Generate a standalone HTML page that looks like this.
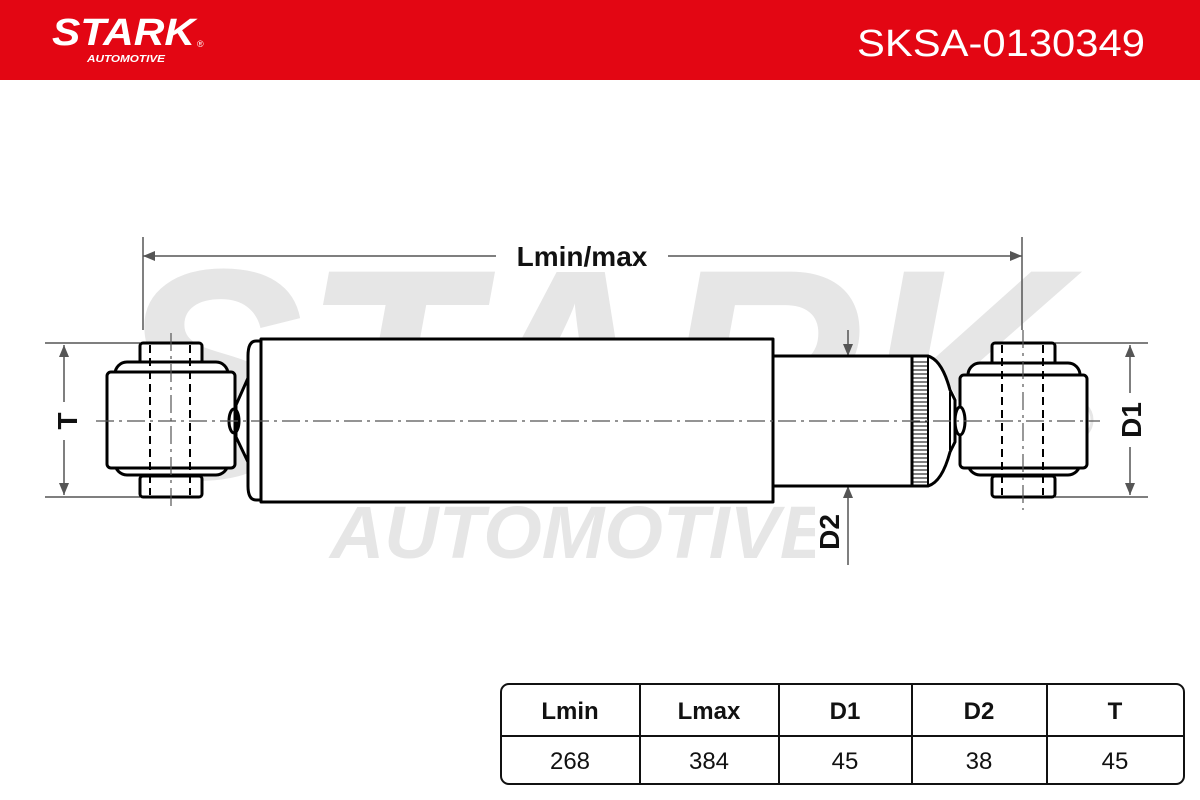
<!DOCTYPE html>
<html><head><meta charset="utf-8"><style>
html,body{margin:0;padding:0;background:#fff;width:1200px;height:800px;overflow:hidden}
svg{display:block}
text{font-family:"Liberation Sans",sans-serif}
</style></head><body>
<svg width="1200" height="800" viewBox="0 0 1200 800" xmlns="http://www.w3.org/2000/svg">
<rect x="0" y="0" width="1200" height="80" fill="#e30613"/>
<text x="52" y="45" font-size="38" font-weight="bold" font-style="italic" fill="#fff" textLength="143" lengthAdjust="spacingAndGlyphs">STARK</text>
<text x="197" y="47" font-size="9" fill="#fff">®</text>
<text x="87" y="62" font-size="10" font-weight="bold" font-style="italic" fill="#fff" textLength="78" lengthAdjust="spacingAndGlyphs">AUTOMOTIVE</text>
<text x="1145" y="56" font-size="38" fill="#fff" text-anchor="end" textLength="288" lengthAdjust="spacingAndGlyphs">SKSA-0130349</text>

<!-- watermark -->
<text x="590" y="478" font-size="300" font-weight="bold" font-style="italic" fill="#e6e6e6" text-anchor="middle" textLength="950" lengthAdjust="spacingAndGlyphs">STARK</text>
<text x="580" y="558" font-size="74" font-weight="bold" font-style="italic" fill="#e6e6e6" text-anchor="middle" textLength="500" lengthAdjust="spacingAndGlyphs">AUTOMOTIVE</text>
<circle cx="1072" cy="420" r="20" fill="none" stroke="#e6e6e6" stroke-width="3"/>
<text x="1072" y="430" font-size="26" fill="#e6e6e6" text-anchor="middle">R</text>

<g stroke="#555" stroke-width="1.5" fill="none">
<line x1="143" y1="237" x2="143" y2="330"/>
<line x1="1022" y1="237" x2="1022" y2="330"/>
<line x1="143" y1="256" x2="1022" y2="256"/>
<line x1="45" y1="343" x2="140" y2="343"/>
<line x1="45" y1="497" x2="140" y2="497"/>
<line x1="64" y1="345" x2="64" y2="495"/>
<line x1="1055" y1="343" x2="1148" y2="343"/>
<line x1="1055" y1="497" x2="1148" y2="497"/>
<line x1="1130" y1="345" x2="1130" y2="495"/>
<line x1="848" y1="330" x2="848" y2="565"/>
</g>
<g fill="#555">
<polygon points="143,256 155,251 155,261"/>
<polygon points="1022,256 1010,251 1010,261"/>
<polygon points="64,345 59,357 69,357"/>
<polygon points="64,495 59,483 69,483"/>
<polygon points="1130,345 1125,357 1135,357"/>
<polygon points="1130,495 1125,483 1135,483"/>
<polygon points="848,356 843,344 853,344"/>
<polygon points="848,486 843,498 853,498"/>
</g>
<rect x="496" y="240" width="172" height="32" fill="#fff"/>
<text x="582" y="266" font-size="28" font-weight="bold" text-anchor="middle" fill="#111">Lmin/max</text>
<rect x="50" y="402" width="28" height="38" fill="#fff"/>
<text transform="translate(77,421) rotate(-90)" font-size="28" font-weight="bold" text-anchor="middle" fill="#111">T</text>
<rect x="1115" y="393" width="30" height="54" fill="#fff"/>
<text transform="translate(1141,420) rotate(-90)" font-size="28" font-weight="bold" text-anchor="middle" fill="#111">D1</text>
<rect x="815" y="505" width="28" height="54" fill="#fff"/>
<text transform="translate(839,532) rotate(-90)" font-size="28" font-weight="bold" text-anchor="middle" fill="#111">D2</text>

<g stroke="#000" stroke-width="3" fill="none" stroke-linejoin="round">
<rect x="140" y="343" width="62" height="22" rx="3" fill="#fff"/>
<rect x="140" y="476" width="62" height="21" rx="3" fill="#fff"/>
<rect x="115" y="362" width="113" height="113" rx="12" fill="#fff"/>
<rect x="107" y="372" width="128" height="96" rx="4" fill="#fff"/>
<rect x="992" y="343" width="63" height="22" rx="3" fill="#fff"/>
<rect x="992" y="476" width="63" height="21" rx="3" fill="#fff"/>
<rect x="968" y="363" width="112" height="112" rx="12" fill="#fff"/>
<rect x="960" y="375" width="127" height="93" rx="4" fill="#fff"/>
<path d="M248,378 L236,405 L236,437 L248,462" fill="#fff"/>
<ellipse cx="234" cy="421" rx="5" ry="12"/>
<path d="M261,341 L256,341 Q248,341 248,356 L248,486 Q248,500 256,500 L261,500" fill="#fff"/>
<rect x="261" y="339" width="512" height="163" fill="#fff"/>
<rect x="773" y="356" width="139" height="130" fill="#fff"/>
<path d="M912,356 L928,356 Q942,360 950,390 L955,400 L955,442 L950,452 Q942,482 928,486 L912,486 Z" fill="#fff"/>
<line x1="928" y1="357" x2="928" y2="485" stroke-width="2"/>
<line x1="950" y1="392" x2="950" y2="450" stroke-width="2"/>
<ellipse cx="960" cy="421" rx="5" ry="14" fill="#fff"/>
</g>
<g stroke="#000" stroke-width="1">
<path d="M913,362h14M913,366h14M913,370h14M913,374h14M913,378h14M913,382h14M913,386h14M913,390h14M913,394h14M913,398h14M913,402h14M913,406h14M913,410h14M913,414h14M913,418h14M913,422h14M913,426h14M913,430h14M913,434h14M913,438h14M913,442h14M913,446h14M913,450h14M913,454h14M913,458h14M913,462h14M913,466h14M913,470h14M913,474h14M913,478h14M913,482h14"/>
</g>
<g stroke="#000" stroke-width="2" stroke-dasharray="8,5" fill="none">
<line x1="150" y1="345" x2="150" y2="495"/>
<line x1="190" y1="345" x2="190" y2="495"/>
<line x1="1002" y1="345" x2="1002" y2="495"/>
<line x1="1043" y1="345" x2="1043" y2="495"/>
</g>
<g stroke="#555" stroke-width="1.2" stroke-dasharray="18,5,3,5" fill="none">
<line x1="96" y1="421" x2="1100" y2="421"/>
<line x1="171" y1="333" x2="171" y2="510"/>
<line x1="1023" y1="330" x2="1023" y2="510"/>
</g>

<g stroke="#111" stroke-width="2" fill="none">
<rect x="501" y="684" width="683" height="100" rx="8"/>
<line x1="501" y1="736" x2="1184" y2="736"/>
<line x1="640" y1="684" x2="640" y2="784"/>
<line x1="779" y1="684" x2="779" y2="784"/>
<line x1="912" y1="684" x2="912" y2="784"/>
<line x1="1047" y1="684" x2="1047" y2="784"/>
</g>
<g font-size="24" text-anchor="middle" fill="#111">
<text x="570" y="719" font-weight="bold">Lmin</text>
<text x="709" y="719" font-weight="bold">Lmax</text>
<text x="845" y="719" font-weight="bold">D1</text>
<text x="979" y="719" font-weight="bold">D2</text>
<text x="1115" y="719" font-weight="bold">T</text>
<text x="570" y="769">268</text>
<text x="709" y="769">384</text>
<text x="845" y="769">45</text>
<text x="979" y="769">38</text>
<text x="1115" y="769">45</text>
</g>
</svg>
</body></html>
